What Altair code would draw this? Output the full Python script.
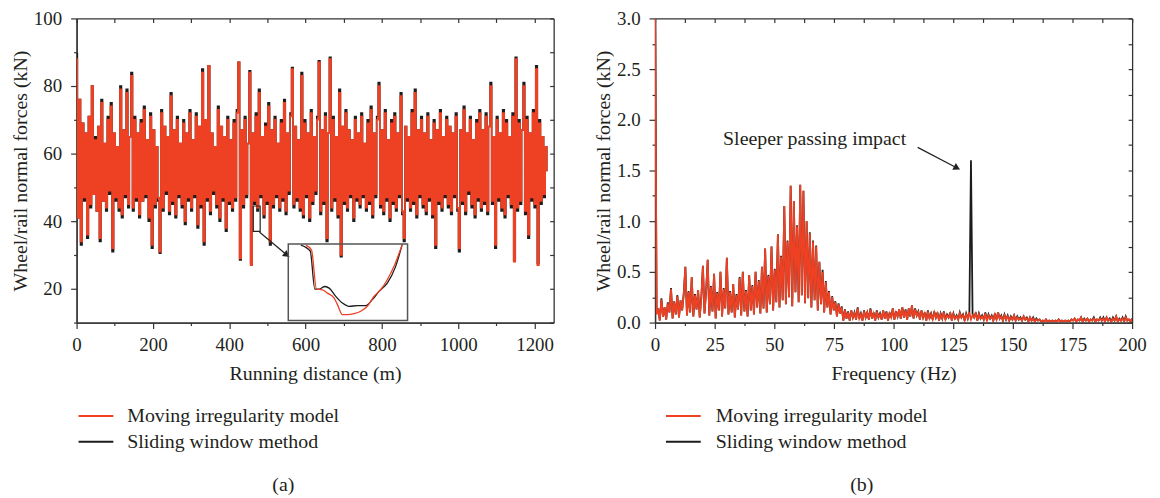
import altair as alt
import pandas as pd

RED = "#EE4124"
BLACK = "#1c1c1c"
AXIS_COLOR = "#333333"
TEXT_COLOR = "#231f20"
FONT = "Liberation Serif"
SERIES = ["Moving irregularity model", "Sliding window method"]

# ---------------- panel (a): wheel/rail normal force vs running distance ----------------
red_a = [
    88, 41, 76, 34, 69, 47, 66, 36, 71, 45, 80, 48, 64, 43, 68, 35, 75, 46, 63, 44,
    70, 49, 74, 32, 66, 47, 62, 44, 79, 42, 67, 48, 78, 45, 65, 83, 44, 70, 47, 66,
    42, 69, 46, 73, 48, 64, 41, 71, 33, 67, 45, 62, 47, 31, 72, 44, 68, 49, 65, 43,
    77, 46, 67, 42, 70, 48, 63, 45, 69, 40, 66, 47, 72, 44, 64, 48, 71, 39, 68, 45,
    84, 34, 70, 47, 86, 43, 66, 49, 62, 45, 73, 41, 68, 47, 65, 38, 70, 46, 64, 44,
    69, 47, 72, 87, 29, 67, 45, 70, 48, 63, 84, 27, 66, 46, 71, 44, 78, 48, 65, 42,
    68, 46, 74, 34, 67, 45, 70, 48, 63, 44, 69, 47, 75, 43, 66, 49, 71, 85, 45, 68,
    47, 64, 44, 83, 42, 69, 48, 66, 41, 72, 46, 65, 49, 70, 87, 43, 67, 46, 71, 35,
    66, 88, 44, 70, 47, 65, 42, 78, 30, 68, 46, 72, 44, 67, 48, 64, 41, 70, 47, 66,
    45, 71, 48, 63, 44, 69, 46, 73, 42, 66, 48, 70, 80, 45, 67, 43, 72, 47, 64, 41,
    69, 46, 71, 44, 66, 48, 77, 43, 35, 68, 47, 65, 44, 72, 46, 78, 42, 67, 48, 70,
    45, 66, 43, 71, 47, 64, 42, 69, 33, 67, 46, 72, 44, 65, 48, 70, 45, 68, 43, 66,
    48, 71, 44, 32, 67, 46, 73, 43, 66, 49, 70, 45, 64, 42, 69, 47, 72, 44, 67, 46,
    71, 43, 68, 80, 46, 65, 33, 70, 47, 66, 44, 72, 42, 69, 48, 65, 45, 71, 28, 88,
    44, 69, 46, 67, 80, 43, 70, 36, 66, 47, 72, 45, 85, 27, 69, 46, 65, 48, 62, 55,
]
black_a = [
    89.5, 41, 76, 33, 69, 46, 66, 35, 71, 44, 80, 48, 65, 43, 68, 34, 76, 46, 63, 43,
    71, 48, 75, 31, 66, 46, 62, 43, 80, 41, 67, 47, 79, 44, 65, 84, 43, 71, 46, 66,
    41, 70, 46, 74, 47, 64, 40, 72, 32, 67, 44, 62, 46, 30.5, 73, 43, 68, 48, 65, 42,
    78, 45, 67, 41, 71, 47, 63, 44, 70, 39, 66, 46, 73, 43, 64, 47, 72, 38, 68, 44,
    85, 33, 70, 46, 86, 42, 66, 48, 62, 44, 74, 40, 68, 46, 65, 37, 71, 45, 64, 43,
    70, 46, 73, 87, 28.5, 67, 44, 71, 47, 63, 84.5, 27.5, 66, 45, 72, 43, 79, 47, 65, 41,
    69, 45, 75, 33, 67, 44, 71, 47, 63, 43, 70, 46, 76, 42, 66, 48, 72, 85.5, 44, 68,
    46, 64, 43, 84, 41, 70, 47, 66, 40, 73, 45, 65, 48, 71, 87.5, 42, 67, 45, 72, 34,
    66, 88.5, 43, 71, 46, 65, 41, 79, 29.5, 68, 45, 73, 43, 67, 47, 64, 40, 71, 46, 66,
    44, 72, 47, 63, 43, 70, 45, 74, 41, 66, 47, 71, 81, 44, 67, 42, 73, 46, 64, 40,
    70, 45, 72, 43, 66, 47, 78, 42, 34, 68, 46, 65, 43, 73, 45, 79, 41, 67, 47, 71,
    44, 66, 42, 72, 46, 64, 41, 70, 32, 67, 45, 73, 43, 65, 47, 71, 44, 68, 42, 66,
    47, 72, 43, 31, 67, 45, 74, 42, 66, 48, 71, 44, 64, 41, 70, 46, 73, 43, 67, 45,
    72, 42, 68, 81, 45, 65, 32, 71, 46, 66, 43, 73, 41, 70, 47, 65, 44, 72, 28.5, 88.5,
    43, 70, 45, 67, 81, 42, 71, 35, 66, 46, 73, 44, 86, 27.5, 70, 45, 65, 47, 62, 55,
]
DIST_END = 1234.0

# inset (zoomed window of panel a)
zoom_box = {"x0": [463.0], "x1": [481.0], "y0": [37.0], "y1": [44.5]}
inset_red_x = [465.66, 466.51, 467.26, 468.16, 468.92, 469.92, 470.42, 471.17, 471.92,
               472.93, 473.93, 474.93, 475.94, 476.94, 477.94, 478.94, 480.2]
inset_red_y = [44.4, 43.92, 40.08, 40.02, 39.69, 39.21, 38.56, 37.58, 37.58,
               37.68, 37.91, 38.4, 39.37, 40.02, 41.0, 42.29, 44.47]
inset_black_x = [464.9, 466.31, 467.01, 467.66, 468.52, 469.17, 470.17, 471.17,
                 472.18, 473.43, 474.68, 475.69, 476.69, 477.94, 479.19, 480.2]
inset_black_y = [44.4, 43.82, 40.08, 40.08, 40.34, 40.18, 39.37, 38.72,
                 38.4, 38.46, 38.46, 39.05, 39.86, 40.67, 42.29, 44.47]
arrow_a = {"x": [479.0], "y": [36.8], "x2": [551.0], "y2": [30.0]}

x_ticks_a = [0, 200, 400, 600, 800, 1000, 1200]
x_minor_a = [100, 300, 500, 700, 900, 1100]
x_all_a = [0, 100, 200, 300, 400, 500, 600, 700, 800, 900, 1000, 1100, 1200]
y_ticks_a = [20, 40, 60, 80, 100]
y_minor_a = [10, 30, 50, 70, 90]
y_all_a = [10, 20, 30, 40, 50, 60, 70, 80, 90, 100]

# ---------------- panel (b): spectrum ----------------
red_b = [
    3.2, 0.08, 0.14, 0.02, 0.23, 0.06, 0.15, 0.03, 0.19, 0.1, 0.33, 0.04, 0.21, 0.08, 0.26, 0.05, 0.22, 0.12, 0.28, 0.55,
    0.07, 0.3, 0.1, 0.45, 0.06, 0.27, 0.13, 0.32, 0.05, 0.24, 0.56, 0.09, 0.3, 0.62, 0.07, 0.35, 0.11, 0.48, 0.04, 0.29,
    0.12, 0.5, 0.06, 0.33, 0.14, 0.64, 0.08, 0.3, 0.1, 0.38, 0.05, 0.27, 0.13, 0.44, 0.07, 0.5, 0.11, 0.31, 0.06, 0.47,
    0.12, 0.36, 0.08, 0.5, 0.15, 0.41, 0.09, 0.55, 0.14, 0.73, 0.1, 0.46, 0.18, 0.75, 0.12, 0.52, 0.2, 0.87, 0.15, 0.65,
    0.22, 1.15, 0.18, 0.8, 0.25, 1.35, 0.16, 1.2, 0.3, 0.95, 0.2, 1.36, 0.27, 1.3, 0.19, 1.0, 0.24, 0.88, 0.15, 0.8,
    0.22, 0.75, 0.12, 0.6, 0.18, 0.5, 0.1, 0.4, 0.15, 0.3, 0.08, 0.25, 0.12, 0.2, 0.06, 0.18, 0.09, 0.15, 0.02, 0.12,
    0.04, 0.1, 0.02, 0.12, 0.05, 0.09, 0.03, 0.14, 0.04, 0.08, 0.02, 0.11, 0.05, 0.1, 0.03, 0.13, 0.04, 0.09, 0.02, 0.11,
    0.05, 0.08, 0.03, 0.12, 0.04, 0.1, 0.02, 0.09, 0.05, 0.14, 0.03, 0.1, 0.06, 0.13, 0.04, 0.15, 0.05, 0.12, 0.03, 0.14,
    0.06, 0.17, 0.04, 0.13, 0.07, 0.1, 0.03, 0.12, 0.05, 0.09, 0.02, 0.11, 0.04, 0.08, 0.03, 0.1, 0.05, 0.09, 0.02, 0.08,
    0.04, 0.1, 0.03, 0.07, 0.05, 0.09, 0.02, 0.08, 0.04, 0.06, 0.03, 0.09, 0.05, 0.07, 0.02, 0.08, 0.04, 0.1, 0.03, 0.07,
    0.05, 0.09, 0.02, 0.08, 0.04, 0.06, 0.03, 0.09, 0.02, 0.07, 0.04, 0.06, 0.02, 0.08, 0.03, 0.1, 0.04, 0.06, 0.02, 0.07,
    0.03, 0.06, 0.02, 0.05, 0.03, 0.07, 0.02, 0.05, 0.03, 0.04, 0.02, 0.06, 0.03, 0.04, 0.01, 0.05, 0.02, 0.04, 0.01, 0.03,
    0.02, 0.03, 0.01, 0.02, 0.01, 0.03, 0.01, 0.02, 0.01, 0.02, 0.01, 0.02, 0.01, 0.03, 0.01, 0.02, 0.01, 0.02, 0.01, 0.02,
    0.01, 0.03, 0.02, 0.04, 0.01, 0.03, 0.02, 0.05, 0.01, 0.03, 0.02, 0.04, 0.01, 0.03, 0.02, 0.04, 0.01, 0.03, 0.02, 0.04,
    0.02, 0.04, 0.01, 0.05, 0.02, 0.03, 0.01, 0.04, 0.02, 0.06, 0.01, 0.03, 0.02, 0.04, 0.01, 0.05, 0.02, 0.03, 0.01, 0.04,
]
black_b = [
    3.2, 0.09, 0.14, 0.02, 0.24, 0.06, 0.15, 0.03, 0.2, 0.1, 0.34, 0.04, 0.21, 0.08, 0.27, 0.05, 0.22, 0.12, 0.29, 0.55,
    0.07, 0.31, 0.1, 0.45, 0.06, 0.28, 0.13, 0.32, 0.05, 0.25, 0.56, 0.09, 0.31, 0.62, 0.07, 0.36, 0.11, 0.48, 0.04, 0.3,
    0.12, 0.5, 0.06, 0.34, 0.14, 0.64, 0.08, 0.31, 0.1, 0.38, 0.05, 0.28, 0.13, 0.45, 0.07, 0.5, 0.11, 0.32, 0.06, 0.47,
    0.12, 0.37, 0.08, 0.5, 0.15, 0.42, 0.09, 0.55, 0.14, 0.73, 0.1, 0.47, 0.18, 0.75, 0.12, 0.53, 0.2, 0.87, 0.15, 0.66,
    0.22, 1.15, 0.18, 0.81, 0.25, 1.35, 0.16, 1.2, 0.3, 0.96, 0.2, 1.36, 0.27, 1.3, 0.19, 1.0, 0.24, 0.89, 0.15, 0.81,
    0.22, 0.76, 0.12, 0.6, 0.18, 0.52, 0.1, 0.41, 0.15, 0.31, 0.08, 0.26, 0.12, 0.21, 0.06, 0.19, 0.09, 0.16, 0.02, 0.13,
    0.04, 0.11, 0.02, 0.12, 0.05, 0.1, 0.03, 0.15, 0.04, 0.09, 0.02, 0.12, 0.05, 0.1, 0.03, 0.14, 0.04, 0.1, 0.02, 0.12,
    0.05, 0.09, 0.03, 0.12, 0.04, 0.11, 0.02, 0.1, 0.05, 0.14, 0.03, 0.11, 0.06, 0.13, 0.04, 0.15, 0.05, 0.13, 0.03, 0.14,
    0.06, 0.17, 0.04, 0.14, 0.07, 0.11, 0.03, 0.12, 0.05, 0.1, 0.02, 0.12, 0.04, 0.09, 0.03, 0.11, 0.05, 0.1, 0.02, 0.09,
    0.04, 0.11, 0.03, 0.08, 0.05, 0.1, 0.02, 0.09, 0.04, 0.07, 0.03, 0.1, 0.05, 0.08, 0.02, 0.09, 0.04, 0.1, 1.6, 0.08,
    0.05, 0.1, 0.02, 0.09, 0.04, 0.07, 0.03, 0.1, 0.02, 0.08, 0.04, 0.07, 0.02, 0.09, 0.03, 0.1, 0.04, 0.07, 0.02, 0.08,
    0.03, 0.07, 0.02, 0.06, 0.03, 0.07, 0.02, 0.06, 0.03, 0.05, 0.02, 0.06, 0.03, 0.05, 0.01, 0.05, 0.02, 0.05, 0.01, 0.04,
    0.02, 0.03, 0.01, 0.02, 0.01, 0.03, 0.01, 0.02, 0.01, 0.02, 0.01, 0.02, 0.01, 0.03, 0.01, 0.02, 0.01, 0.02, 0.01, 0.02,
    0.01, 0.03, 0.02, 0.04, 0.01, 0.03, 0.02, 0.05, 0.01, 0.04, 0.02, 0.04, 0.01, 0.03, 0.02, 0.05, 0.01, 0.03, 0.02, 0.05,
    0.02, 0.05, 0.01, 0.05, 0.02, 0.04, 0.01, 0.05, 0.02, 0.06, 0.01, 0.04, 0.02, 0.05, 0.01, 0.06, 0.02, 0.03, 0.01, 0.04,
]
FREQ_END = 200.0

annot_b = {"x": [66.9], "y": [1.806], "t": ["Sleeper passing impact"]}
arrow_b = {"x": [110.1], "y": [1.728], "x2": [126.6], "y2": [1.525]}

x_ticks_b = [0, 25, 50, 75, 100, 125, 150, 175, 200]
x_minor_b = [12.5, 37.5, 62.5, 87.5, 112.5, 137.5, 162.5, 187.5]
x_all_b = [0, 12.5, 25, 37.5, 50, 62.5, 75, 87.5, 100, 112.5, 125, 137.5, 150,
           162.5, 175, 187.5, 200]
y_ticks_b = [0, 0.5, 1.0, 1.5, 2.0, 2.5, 3.0]
y_minor_b = [0.25, 0.75, 1.25, 1.75, 2.25, 2.75]
y_all_b = [0, 0.25, 0.5, 0.75, 1.0, 1.25, 1.5, 1.75, 2.0, 2.25, 2.5, 2.75, 3.0]

W, H = 480, 306
COLOR_SCALE = alt.Scale(domain=SERIES, range=[RED, BLACK])
COLOR = alt.Color("s:N", scale=COLOR_SCALE, legend=None)


def line_df(values, end, name):
    n = len(values)
    return pd.DataFrame({"x": [end * i / (n - 1) for i in range(n)], "y": values, "s": name})


def main_axis(values, orient, title, fmt, **extra):
    kw = dict(values=values, orient=orient, title=title, format=fmt, tickSize=6, tickWidth=1.2,
              tickColor=AXIS_COLOR, domain=True, domainColor=AXIS_COLOR, domainWidth=1.3,
              labelFont=FONT, labelFontSize=19, labelColor=TEXT_COLOR, labelFlush=False,
              labelOverlap=False, titleFont=FONT, titleFontSize=20, titleFontWeight="normal",
              titleColor=TEXT_COLOR, grid=False)
    kw.update(extra)
    return alt.Axis(**kw)


def plain_axis(values, orient, size, offset=0):
    return alt.Axis(values=values, orient=orient, title=None, labels=False, tickSize=size,
                    tickWidth=1.2, tickColor=AXIS_COLOR, domain=True, domainColor=AXIS_COLOR,
                    domainWidth=1.3, offset=offset, grid=False)


def legend_layer(x0, x1, tx):
    ldf = pd.DataFrame({"s": SERIES})
    ly = alt.Y("s:N", scale=alt.Scale(type="point", domain=SERIES, range=[400, 426], padding=0),
               axis=None)
    rule = alt.Chart(ldf).mark_rule(strokeWidth=2).encode(
        x=alt.value(x0), x2=alt.value(x1), y=ly, color=COLOR)
    text = alt.Chart(ldf).mark_text(align="left", baseline="middle", font=FONT, fontSize=20,
                                    color=TEXT_COLOR).encode(x=alt.value(tx), y=ly, text="s:N")
    return alt.layer(rule, text)


def panel(black_vals, red_vals, end, lw, interp, xs, ys, xax, yax, xmin, ymin, xall, yall,
          extra_layers, label, label_x):
    def xy(xf="x:Q", yf="y:Q"):
        return dict(x=alt.X(xf, scale=xs, axis=xax), y=alt.Y(yf, scale=ys, axis=yax))

    black_line = alt.Chart(line_df(black_vals, end, SERIES[1])).mark_line(
        strokeWidth=lw, clip=True, interpolate=interp).encode(color=COLOR, **xy())
    red_line = alt.Chart(line_df(red_vals, end, SERIES[0])).mark_line(
        strokeWidth=lw, clip=True, interpolate=interp).encode(color=COLOR, **xy())
    lab = alt.Chart(pd.DataFrame({"t": [label]})).mark_text(
        font=FONT, fontSize=20, color=TEXT_COLOR).encode(
        text="t:N", x=alt.value(label_x), y=alt.value(469))
    layers = [black_line, red_line] + [mk(xy) for mk in extra_layers] + [lab]
    main = alt.layer(*layers)

    dummy = pd.DataFrame({"x": [xs.domain[0]], "y": [ys.domain[0]]})
    minor = alt.Chart(dummy).mark_point(opacity=0).encode(
        x=alt.X("x:Q", scale=xs, axis=plain_axis(xmin, "bottom", 3)),
        y=alt.Y("y:Q", scale=ys, axis=plain_axis(ymin, "left", 3)))
    mirror = alt.Chart(dummy).mark_point(opacity=0).encode(
        x=alt.X("x:Q", scale=xs, axis=plain_axis(xall, "bottom", 4, offset=-H)),
        y=alt.Y("y:Q", scale=ys, axis=plain_axis(yall, "left", 4, offset=-W)))
    return main, minor, mirror


# ----- panel a -----
xs_a = alt.Scale(domain=[0, 1250], nice=False, zero=False)
ys_a = alt.Scale(domain=[10, 100], nice=False, zero=False)
xax_a = main_axis(x_ticks_a, "bottom", "Running distance (m)", "d", labelPadding=7, titlePadding=9)
yax_a = main_axis(y_ticks_a, "left", "Wheel/rail normal forces (kN)", "d", labelPadding=9, titlePadding=3)

box_df = pd.DataFrame(zoom_box)
arrow_a_df = pd.DataFrame(arrow_a)

extra_a = [
    lambda xy: alt.Chart(box_df).mark_rect(fillOpacity=0, stroke="#222222", strokeWidth=1.2).encode(
        x2="x1:Q", y2="y1:Q", **xy("x0:Q", "y0:Q")),
    lambda xy: alt.Chart(arrow_a_df).mark_rule(color="#222222", strokeWidth=1.2).encode(
        x2="x2:Q", y2="y2:Q", **xy("x:Q", "y:Q")),
    lambda xy: alt.Chart(arrow_a_df).mark_point(shape="triangle-right", angle=37, size=60, filled=True,
                                                 opacity=1, color="#222222").encode(**xy("x2:Q", "y2:Q")),
]
main_a, minor_a, mirror_a = panel(black_a, red_a, DIST_END, 1.6, "step", xs_a, ys_a, xax_a, yax_a,
                                  x_minor_a, y_minor_a, x_all_a, y_all_a, extra_a, "(a)", 208)

xs_in = alt.Scale(domain=[463, 481], range=[213, 333], nice=False, zero=False)
ys_in = alt.Scale(domain=[37, 44.5], range=[304, 227], nice=False, zero=False)
inset_black = alt.Chart(pd.DataFrame({"x": inset_black_x, "y": inset_black_y})).mark_line(
    color=BLACK, strokeWidth=1.3, interpolate="monotone").encode(
    x=alt.X("x:Q", scale=xs_in, axis=None), y=alt.Y("y:Q", scale=ys_in, axis=None))
inset_red = alt.Chart(pd.DataFrame({"x": inset_red_x, "y": inset_red_y})).mark_line(
    color=RED, strokeWidth=1.3, interpolate="monotone").encode(
    x=alt.X("x:Q", scale=xs_in, axis=None), y=alt.Y("y:Q", scale=ys_in, axis=None))
inset_frame = alt.Chart(box_df).mark_rect(fillOpacity=0, stroke="#555555", strokeWidth=1.5).encode(
    x=alt.X("x0:Q", scale=xs_in, axis=None), x2="x1:Q",
    y=alt.Y("y0:Q", scale=ys_in, axis=None), y2="y1:Q")
inset_a = alt.layer(inset_black, inset_red, inset_frame)

panel_a = alt.layer(main_a, minor_a, mirror_a, inset_a, legend_layer(2, 37, 51)).resolve_scale(
    x="independent", y="independent").properties(width=W, height=H)

# ----- panel b -----
xs_b = alt.Scale(domain=[0, 200], nice=False, zero=False)
ys_b = alt.Scale(domain=[0, 3], nice=False, zero=False)
xax_b = main_axis(x_ticks_b, "bottom", "Frequency (Hz)", "d", labelPadding=7, titlePadding=9)
yax_b = main_axis(y_ticks_b, "left", "Wheel/rail normal forces (kN)", ".1f",
                  labelPadding=9, titlePadding=3)
annot_df = pd.DataFrame(annot_b)
arrow_b_df = pd.DataFrame(arrow_b)
extra_b = [
    lambda xy: alt.Chart(annot_df).mark_text(font=FONT, fontSize=20, color=TEXT_COLOR,
                                             align="center", baseline="middle").encode(
        text="t:N", **xy("x:Q", "y:Q")),
    lambda xy: alt.Chart(arrow_b_df).mark_rule(color="#222222", strokeWidth=1.2).encode(
        x2="x2:Q", y2="y2:Q", **xy("x:Q", "y:Q")),
    lambda xy: alt.Chart(arrow_b_df).mark_point(shape="triangle-right", angle=28, size=60, filled=True,
                                                 opacity=1, color="#222222").encode(**xy("x2:Q", "y2:Q")),
]
main_b, minor_b, mirror_b = panel(black_b, red_b, FREQ_END, 1.8, "linear", xs_b, ys_b, xax_b, yax_b,
                                  x_minor_b, y_minor_b, x_all_b, y_all_b, extra_b, "(b)", 208)
panel_b = alt.layer(main_b, minor_b, mirror_b, legend_layer(11, 46, 61)).resolve_scale(
    x="independent", y="independent").properties(width=W, height=H)

chart = alt.hconcat(panel_a, panel_b, spacing=39,
                    padding={"left": 2, "top": 0, "right": 5, "bottom": 0}).configure_view(stroke=None)

chart.save("out.html", embed_options={"renderer": "svg", "actions": False})
